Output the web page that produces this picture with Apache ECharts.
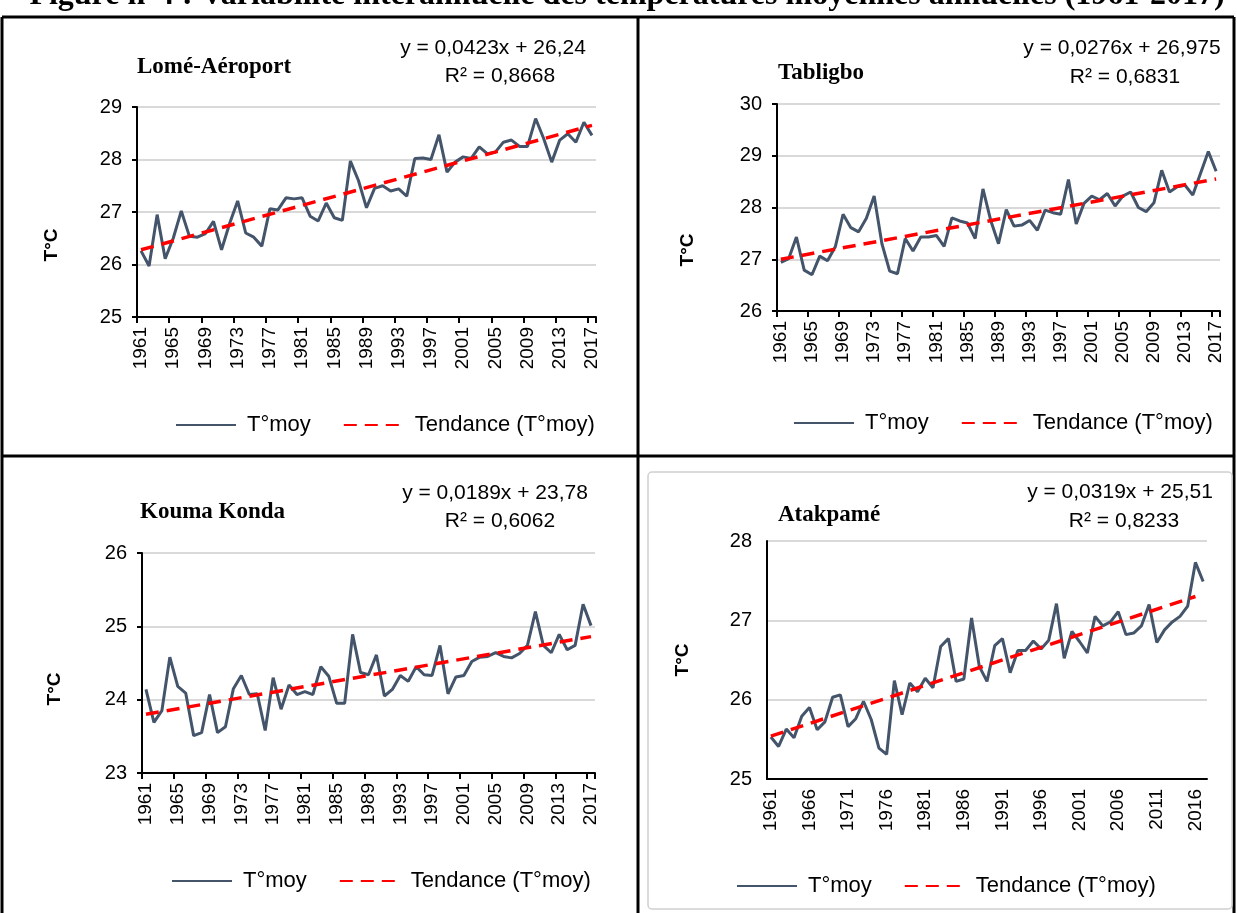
<!DOCTYPE html>
<html>
<head>
<meta charset="utf-8">
<script src="https://cdn.jsdelivr.net/npm/echarts@6/dist/echarts.min.js"></script>
<style>
html,body{margin:0;padding:0;background:#fff;}
#c{width:1237px;height:913px;}
</style>
</head>
<body>
<div id="c"></div>
<script>
// ---------- DATA ----------
const years = ['1961','1962','1963','1964','1965','1966','1967','1968','1969','1970',
 '1971','1972','1973','1974','1975','1976','1977','1978','1979','1980',
 '1981','1982','1983','1984','1985','1986','1987','1988','1989','1990',
 '1991','1992','1993','1994','1995','1996','1997','1998','1999','2000',
 '2001','2002','2003','2004','2005','2006','2007','2008','2009','2010',
 '2011','2012','2013','2014','2015','2016','2017'];

const lome = [26.26,25.97,26.95,26.11,26.50,27.02,26.54,26.52,26.59,26.82,
 26.28,26.78,27.21,26.60,26.52,26.35,27.06,27.04,27.27,27.25,
 27.27,26.92,26.83,27.17,26.89,26.84,27.97,27.60,27.08,27.45,
 27.50,27.40,27.44,27.30,28.02,28.03,28.00,28.47,27.76,27.95,
 28.05,28.02,28.24,28.11,28.14,28.33,28.37,28.25,28.25,28.78,
 28.40,27.95,28.37,28.49,28.33,28.71,28.46];

const tabligbo = [26.94,27.01,27.43,26.79,26.70,27.06,26.97,27.24,27.87,27.61,
 27.53,27.79,28.22,27.30,26.77,26.72,27.40,27.16,27.43,27.43,
 27.46,27.25,27.80,27.74,27.70,27.40,28.36,27.75,27.30,27.96,
 27.64,27.66,27.75,27.56,27.95,27.90,27.87,28.54,27.68,28.08,
 28.22,28.15,28.27,28.03,28.22,28.30,28.00,27.92,28.09,28.72,
 28.30,28.40,28.43,28.24,28.66,29.08,28.70];

const kouma = [24.14,23.69,23.85,24.58,24.18,24.09,23.51,23.55,24.07,23.55,
 23.63,24.15,24.33,24.07,24.08,23.58,24.30,23.87,24.20,24.07,
 24.11,24.07,24.45,24.32,23.95,23.95,24.89,24.37,24.34,24.61,
 24.05,24.14,24.33,24.25,24.45,24.34,24.33,24.74,24.08,24.31,
 24.33,24.52,24.58,24.59,24.64,24.59,24.57,24.63,24.74,25.20,
 24.74,24.64,24.89,24.68,24.74,25.30,25.01];

const atakpame = [25.53,25.41,25.63,25.52,25.79,25.90,25.62,25.72,26.03,26.06,
 25.66,25.76,25.98,25.75,25.39,25.31,26.24,25.81,26.21,26.10,
 26.27,26.15,26.67,26.77,26.23,26.26,27.03,26.42,26.23,26.68,
 26.77,26.34,26.62,26.62,26.74,26.64,26.75,27.21,26.52,26.86,
 26.73,26.59,27.05,26.93,26.98,27.11,26.82,26.84,26.93,27.20,
 26.72,26.88,26.98,27.05,27.18,27.73,27.49];

// trend line end points (first year, last year drawn)
const lomeTrend = [26.28, 28.65];
const tabligboTrend = [27.00, 28.55];
const koumaTrend = [23.80, 24.86];
const atakpameTrend = [25.54, 27.30];

const stationNames = ['Lomé-Aéroport','Tabligbo','Kouma Konda','Atakpamé'];
const equations = ['y = 0,0423x + 26,24','y = 0,0276x + 26,975','y = 0,0189x + 23,78','y = 0,0319x + 25,51'];
const r2Labels = ['R² = 0,8668','R² = 0,6831','R² = 0,6062','R² = 0,8233'];
const yRanges = [[25,29],[26,30],[23,26],[25,28]];
const seriesName = 'T°moy';
const trendName = 'Tendance (T°moy)';
const yName = 'T°C';
const figTitle = 'Figure n°4 : Variabilité interannuelle des températures moyennes annuelles (1961-2017)';

// ---------- LAYOUT ----------
const FONT = '"Liberation Sans", Arial, sans-serif';
const SERIF = '"Liberation Serif", "Times New Roman", serif';
const grids = [
  {left:137, top:107, width:459, height:210},
  {left:777, top:104, width:443, height:207},
  {left:142, top:553, width:453, height:220},
  {left:767, top:541, width:440, height:238}
];
const labelEvery = [3,3,3,4];
const showTicks = [true,true,true,false];
const yNamePos = [[52,245],[688,250],[55,689],[683,660]];
const legendPos = [{left:170, top:409},{left:788, top:407},{left:166, top:865},{left:731, top:870}];
const headerPos = [
  {name:[137,67], eq:[493,48], r2:[500,76]},
  {name:[778,73], eq:[1122,48], r2:[1125,77]},
  {name:[140,512], eq:[495,493], r2:[500,521]},
  {name:[778,515], eq:[1120,492], r2:[1124,521]}
];

function trendData(ends, lastIdx){
  const arr = years.map(() => null);
  arr[0] = ends[0];
  arr[lastIdx] = ends[1];
  return arr;
}

const values = [lome, tabligbo, kouma, atakpame];
const trends = [trendData(lomeTrend,56), trendData(tabligboTrend,56), trendData(koumaTrend,56), trendData(atakpameTrend,55)];

const xAxis = [], yAxis = [], series = [], legend = [], graphic = [];

for (let i=0;i<4;i++){
  xAxis.push({
    type:'category', gridIndex:i, data:years, boundaryGap:true,
    axisLine:{lineStyle:{color:'#000', width:2}},
    axisTick:{show:showTicks[i], interval:labelEvery[i], length:6, lineStyle:{color:'#000', width:2}},
    axisLabel:{interval:labelEvery[i], rotate:90, fontSize:19, color:'#000', fontFamily:FONT, margin:10},
    splitLine:{show:false}
  });
  yAxis.push({
    type:'value', gridIndex:i, min:yRanges[i][0], max:yRanges[i][1], interval:1,
    axisLine:{show:true, lineStyle:{color:'#000', width:2}},
    axisTick:{show:showTicks[i], length:5, lineStyle:{color:'#000', width:2}},
    axisLabel:{fontSize:20, color:'#000', fontFamily:FONT, margin:15},
    splitLine:{show:true, lineStyle:{color:'#d9d9d9', width:2}}
  });
  series.push({
    name:seriesName, type:'line', xAxisIndex:i, yAxisIndex:i, data:values[i],
    symbol:'none', lineStyle:{color:'#44546a', width:3}, itemStyle:{color:'#44546a'}, z:2
  });
  series.push({
    name:trendName, type:'line', xAxisIndex:i, yAxisIndex:i, data:trends[i],
    connectNulls:true, symbol:'none',
    lineStyle:{color:'#ff0000', width:3.5, type:[13,8]}, itemStyle:{color:'#ff0000'}, z:3
  });
  legend.push({
    left:legendPos[i].left, top:legendPos[i].top, orient:'horizontal',
    data:[seriesName, trendName], itemWidth:60, itemHeight:14, itemGap:32,
    itemStyle:{opacity:0},
    textStyle:{fontSize:22, color:'#000', fontFamily:FONT, padding:[0,0,0,6]}
  });
  const hp = headerPos[i];
  graphic.push({type:'text', x:hp.name[0], y:hp.name[1], style:{text:stationNames[i], font:'bold 23px '+SERIF, fill:'#000', textAlign:'left', textVerticalAlign:'middle'}});
  graphic.push({type:'text', x:hp.eq[0], y:hp.eq[1], style:{text:equations[i], font:'21px '+FONT, fill:'#000', textAlign:'center', textVerticalAlign:'middle'}});
  graphic.push({type:'text', x:hp.r2[0], y:hp.r2[1], style:{text:r2Labels[i], font:'21px '+FONT, fill:'#000', textAlign:'center', textVerticalAlign:'middle'}});
  graphic.push({type:'text', x:yNamePos[i][0], y:yNamePos[i][1], rotation:Math.PI/2, style:{text:yName, font:'bold 19px '+FONT, fill:'#000', textAlign:'center', textVerticalAlign:'middle'}});
}

// table borders and title
const B = {stroke:'#000', lineWidth:3};
graphic.push({type:'line', shape:{x1:2, y1:17, x2:2, y2:913}, style:B});
graphic.push({type:'line', shape:{x1:1234, y1:17, x2:1234, y2:913}, style:B});
graphic.push({type:'line', shape:{x1:2, y1:17, x2:1234, y2:17}, style:B});
graphic.push({type:'line', shape:{x1:638, y1:17, x2:638, y2:913}, style:B});
graphic.push({type:'line', shape:{x1:2, y1:456, x2:1234, y2:456}, style:B});
graphic.push({type:'rect', shape:{x:648, y:472, width:584, height:437, r:4}, style:{fill:'none', stroke:'#d0d0d0', lineWidth:1.5}});
graphic.push({type:'text', x:627, y:12, style:{text:figTitle, font:'bold 32px '+SERIF, fill:'#000', textAlign:'center', textVerticalAlign:'bottom'}});

const chart = echarts.init(document.getElementById('c'), null, {renderer:'canvas'});
chart.setOption({
  animation:false,
  backgroundColor:'#fff',
  grid:grids,
  xAxis, yAxis, series, legend, graphic
});
</script>
</body>
</html>
